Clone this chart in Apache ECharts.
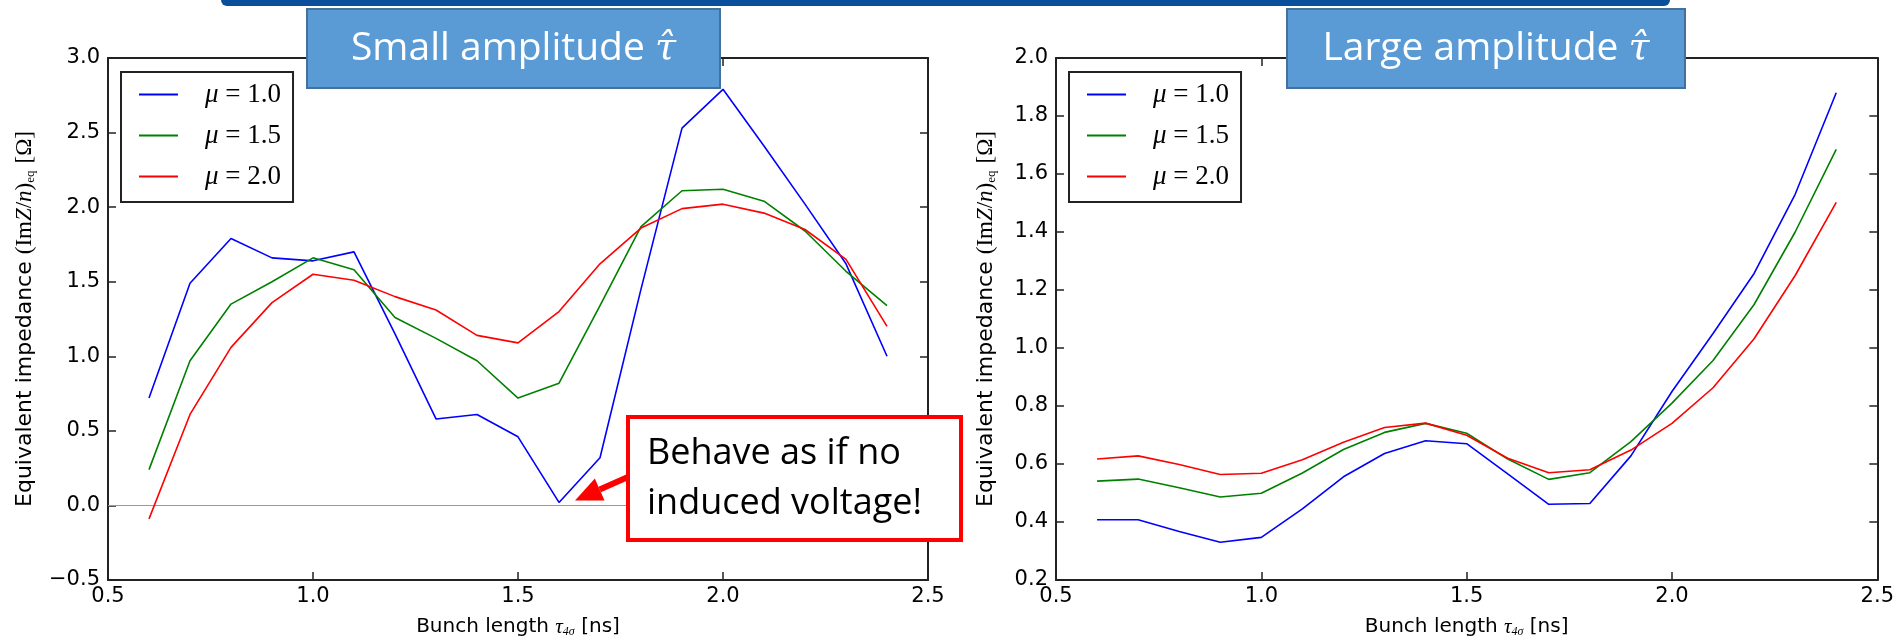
<!DOCTYPE html>
<html>
<head>
<meta charset="utf-8">
<script src="https://cdn.jsdelivr.net/npm/echarts@6/dist/echarts.min.js"></script>
<style>
html,body{margin:0;padding:0;background:#fff;}
#c{width:1897px;height:643px;}
</style>
</head>
<body>
<div id="c"></div>
<script>
// ---- data ----
const bunchLength = [0.6,0.7,0.8,0.9,1.0,1.1,1.2,1.3,1.4,1.5,1.6,1.7,1.8,1.9,2.0,2.1,2.2,2.3,2.4];
const muLabels = ['1.0','1.5','2.0'];
const seriesColors = ['#0000ff','#008000','#ff0000'];

const smallMu10 = [0.72,1.49,1.79,1.66,1.64,1.70,1.15,0.58,0.61,0.46,0.02,0.32,1.45,2.53,2.79,2.41,2.02,1.62,1.00];
const smallMu15 = [0.24,0.97,1.35,1.50,1.66,1.58,1.26,1.12,0.97,0.72,0.82,1.34,1.87,2.11,2.12,2.04,1.84,1.57,1.34];
const smallMu20 = [-0.09,0.61,1.06,1.36,1.55,1.51,1.40,1.31,1.14,1.09,1.30,1.62,1.86,1.99,2.02,1.96,1.85,1.65,1.20];

const largeMu10 = [0.408,0.408,0.367,0.330,0.347,0.445,0.556,0.636,0.680,0.670,0.566,0.461,0.464,0.628,0.85,1.05,1.257,1.53,1.88];
const largeMu15 = [0.541,0.548,0.518,0.486,0.499,0.569,0.650,0.709,0.740,0.706,0.617,0.547,0.570,0.677,0.81,0.957,1.15,1.40,1.685];
const largeMu20 = [0.617,0.628,0.598,0.564,0.568,0.615,0.675,0.726,0.741,0.699,0.620,0.570,0.580,0.648,0.740,0.863,1.032,1.25,1.502];

const xTicks = {min:0.5, max:2.5, interval:0.5};
const yTicksSmall = {min:-0.5, max:3.0, interval:0.5};
const yTicksLarge = {min:0.2, max:2.0, interval:0.2};

const panelTitles = ['Small amplitude ', 'Large amplitude '];
const annotationLines = ['Behave as if no', 'induced voltage!'];

// ---- chart ----
const chart = echarts.init(document.getElementById('c'), null, {renderer:'canvas'});
const axisColor = '#222';
const labelFont = {fontFamily:'DejaVu Sans', fontSize:21, color:'#000'};

function fmt(v){ const s = Math.abs(v).toFixed(1); return v < -1e-9 ? '\u2212' + s : s; }

function xAxes(gi){
  const base = {gridIndex:gi, type:'value', min:xTicks.min, max:xTicks.max, interval:xTicks.interval,
    splitLine:{show:false},
    axisLine:{show:true, onZero:false, lineStyle:{color:axisColor, width:2}},
    axisTick:{show:true, inside:true, length:8, lineStyle:{color:axisColor, width:1.5}}};
  return [
    Object.assign({}, base, {position:'bottom',
      axisLabel:Object.assign({margin:6, formatter:fmt}, labelFont),
      name:'Bunch length {it|τ}{s|4σ} [ns]', nameLocation:'middle', nameGap:36,
      nameTextStyle:{fontFamily:'DejaVu Sans', fontSize:20, color:'#000',
        rich:{it:{fontFamily:'Liberation Serif', fontStyle:'italic', fontSize:21, color:'#000'},
              s:{fontFamily:'Liberation Serif', fontStyle:'italic', fontSize:12, color:'#000', padding:[10,0,0,0]}}}}),
    Object.assign({}, base, {position:'top', axisLabel:{show:false}})
  ];
}
function yAxes(gi, t, gap){
  const base = {gridIndex:gi, type:'value', min:t.min, max:t.max, interval:t.interval,
    splitLine:{show:false},
    axisLine:{show:true, onZero:false, lineStyle:{color:axisColor, width:2}},
    axisTick:{show:true, inside:true, length:8, lineStyle:{color:axisColor, width:1.5}}};
  return [
    Object.assign({}, base, {position:'left',
      axisLabel:Object.assign({margin:8, formatter:fmt}, labelFont),
      name:'Equivalent impedance {m|(Im}{mi|Z}{m|/}{mi|n}{m|)}{s|eq} {m|[Ω]}',
      nameLocation:'middle', nameGap:gap,
      nameTextStyle:{fontFamily:'DejaVu Sans', fontSize:22, color:'#000',
        rich:{m:{fontFamily:'Liberation Serif', fontSize:23, color:'#000'},
              mi:{fontFamily:'Liberation Serif', fontStyle:'italic', fontSize:23, color:'#000'},
              s:{fontFamily:'Liberation Serif', fontSize:13, color:'#000', padding:[11,0,0,0]}}}}),
    Object.assign({}, base, {position:'right', axisLabel:{show:false}})
  ];
}

function mkSeries(vals, i, xi, yi, extra){
  return Object.assign({
    type:'line', name:'μ = ' + muLabels[i], xAxisIndex:xi, yAxisIndex:yi,
    data: bunchLength.map((x,k)=>[x, vals[k]]),
    symbol:'none', showSymbol:false, smooth:false, animation:false,
    lineStyle:{color:seriesColors[i], width:1.6}, itemStyle:{color:seriesColors[i]}, z:5
  }, extra||{});
}

function legendAt(left){
  return {
    show:true, orient:'vertical', left:left, top:72, selectedMode:false,
    data: muLabels.map(m=>({name:'μ = ' + m, icon:'rect'})),
    backgroundColor:'#fff', borderColor:'#222', borderWidth:2,
    padding:[9,12,12,18], itemWidth:39, itemHeight:2, itemGap:14,
    formatter: n => '{sp| }{it|μ}{r| ' + n.slice(2) + '}',
    textStyle:{fontFamily:'Liberation Serif', fontSize:27, color:'#000', lineHeight:26,
      rich:{sp:{width:22, fontSize:27, lineHeight:26},
            it:{fontFamily:'Liberation Serif', fontStyle:'italic', fontSize:27, color:'#000', lineHeight:26},
            r:{fontFamily:'Liberation Serif', fontSize:27, color:'#000', lineHeight:26}}}
  };
}

const option = {
  animation:false,
  backgroundColor:'#fff',
  grid:[{left:108, right:969, top:58, bottom:61, containLabel:false},
        {left:1056, right:18, top:58, bottom:61, containLabel:false}],
  xAxis:[...xAxes(0), ...xAxes(1)],
  yAxis:[...yAxes(0, yTicksSmall, 71), ...yAxes(1, yTicksLarge, 58)],
  legend:[legendAt(121), legendAt(1069)],
  series:[
    mkSeries(smallMu10,0,0,0,{markLine:{silent:true, symbol:'none', label:{show:false}, animation:false,
      lineStyle:{color:'#9a9a9a', width:1.2, type:'solid'}, data:[{yAxis:0}]}}),
    mkSeries(smallMu15,1,0,0),
    mkSeries(smallMu20,2,0,0),
    mkSeries(largeMu10,0,2,2),
    mkSeries(largeMu15,1,2,2),
    mkSeries(largeMu20,2,2,2)
  ]
};
chart.setOption(option);

// ---- decorations (slide overlays) ----
const tip0 = chart.convertToPixel({xAxisIndex:0, yAxisIndex:0}, [bunchLength[10], smallMu10[10]]);
const tip = [tip0[0] + 16, tip0[1] - 2];
const tail = [628, 477];
const dx = tip[0]-tail[0], dy = tip[1]-tail[1], L = Math.hypot(dx,dy);
const ux = dx/L, uy = dy/L, nx = -uy, ny = ux;
const hl = 27, hw = 12;
const base = [tip[0]-ux*hl, tip[1]-uy*hl];

function titleBox(x, w, txt){
  return [
    {type:'rect', z:100, shape:{x:x, y:9, width:w, height:79}, style:{fill:'#5b9bd5', stroke:'#41719c', lineWidth:2}},
    {type:'text', z:101, x:x + w/2, y:49, style:{text:txt + '{t|τ̂}', fill:'#fff', align:'center', verticalAlign:'middle',
      font:'39px "Open Sans", "Noto Sans", sans-serif',
      rich:{t:{fontFamily:'DejaVu Serif', fontStyle:'italic', fontSize:38, fill:'#fff', color:'#fff'}}}}
  ];
}

chart.setOption({
  graphic:[
    {type:'rect', z:100, shape:{x:221, y:-10, width:1449, height:16, r:6}, style:{fill:'#0a4f9c'}},
    ...titleBox(307, 413, panelTitles[0]),
    ...titleBox(1287, 398, panelTitles[1]),
    {type:'rect', z:100, shape:{x:628, y:417, width:333, height:123}, style:{fill:'#fff', stroke:'#ff0000', lineWidth:4}},
    {type:'text', z:101, x:647, y:479, style:{text:annotationLines.join('\n'), fill:'#000', align:'left', verticalAlign:'middle',
      font:'36px "Open Sans", "Noto Sans", sans-serif', lineHeight:50}},
    {type:'line', z:101, shape:{x1:tail[0], y1:tail[1], x2:base[0], y2:base[1]}, style:{stroke:'#ff0000', lineWidth:6}},
    {type:'polygon', z:101, shape:{points:[tip, [base[0]+nx*hw, base[1]+ny*hw], [base[0]-nx*hw, base[1]-ny*hw]]}, style:{fill:'#ff0000'}}
  ]
});
</script>
</body>
</html>
